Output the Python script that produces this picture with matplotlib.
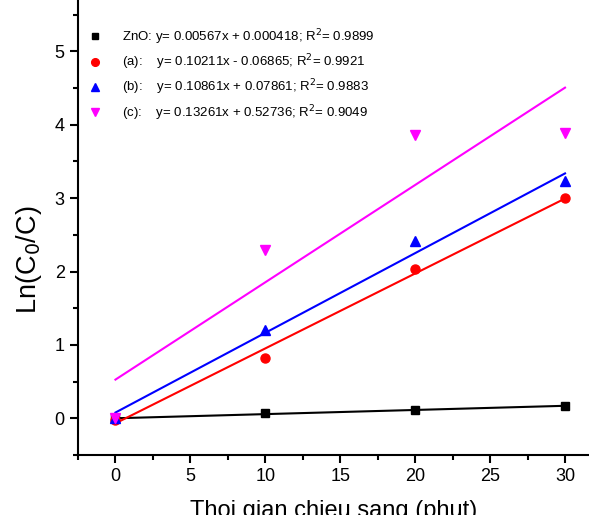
import numpy as np
import matplotlib
matplotlib.use("Agg")
import matplotlib.pyplot as plt
from matplotlib.ticker import MultipleLocator

plt.rcParams['font.family'] = ['Liberation Sans', 'DejaVu Sans']

# Irradiation time (min)
time_min = [0, 10, 20, 30]

# Ln(C0/C) measured
zno = [0.0, 0.07, 0.11, 0.17]
sample_a = [-0.02, 0.82, 2.04, 3.0]
sample_b = [0.0, 1.21, 2.42, 3.23]
sample_c = [0.0, 2.29, 3.86, 3.89]

# Linear fit coefficients (slope, intercept) from the legend
fit_slopes = [0.00567, 0.10211, 0.10861, 0.13261]
fit_intercepts = [0.000418, -0.06865, 0.07861, 0.52736]

labels = [
    "ZnO: y= 0.00567x + 0.000418; R$^2$= 0.9899",
    "(a):    y= 0.10211x - 0.06865; R$^2$= 0.9921",
    "(b):    y= 0.10861x + 0.07861; R$^2$= 0.9883",
    "(c):    y= 0.13261x + 0.52736; R$^2$= 0.9049",
]
colors = ["black", "#ff0000", "#0000ff", "#ff00ff"]
markers = ["s", "o", "^", "v"]
msizes = [5.5, 6.5, 6.5, 6.5]
series = [zno, sample_a, sample_b, sample_c]

fig = plt.figure(figsize=(5.89, 5.15), dpi=100)
ax = fig.add_axes([0.1324, 0.1165, 0.8676, 0.8835])

x_fit = np.array([time_min[0], time_min[-1]])
for vals, k, b, c, m, ms, lab in zip(series, fit_slopes, fit_intercepts, colors, markers, msizes, labels):
    ax.plot(time_min, vals, linestyle="none", marker=m, color=c, markersize=ms, label=lab)
    ax.plot(x_fit, k * x_fit + b, color=c, linewidth=1.5)

ax.set_xlim(-2.5, 31.6)
ax.set_ylim(-0.5, 5.7)
ax.xaxis.set_major_locator(MultipleLocator(5))
ax.xaxis.set_minor_locator(MultipleLocator(2.5))
ax.yaxis.set_major_locator(MultipleLocator(1))
ax.yaxis.set_minor_locator(MultipleLocator(0.5))
ax.spines['top'].set_visible(False)
ax.spines['right'].set_visible(False)
ax.spines['left'].set_linewidth(1.5)
ax.spines['bottom'].set_linewidth(1.5)
ax.tick_params(which='major', direction='out', length=6, width=1.5, labelsize=13)
ax.tick_params(which='minor', direction='out', length=3.5, width=1.5)

ax.set_ylabel("Ln(C$_0$/C)", fontsize=19.5)
ax.yaxis.set_label_coords(-0.066, 0.43)
ax.set_xlabel("Thoi gian chieu sang (phut)", fontsize=17, labelpad=10.5)

ax.legend(loc='upper left', bbox_to_anchor=(87 / 589, 1 - 27 / 515), bbox_transform=fig.transFigure,
          frameon=False, fontsize=9.5, borderaxespad=0, borderpad=0,
          handletextpad=1.45, handlelength=1.2, labelspacing=0.44, markerscale=0.85)

fig.savefig("out.png", dpi=100)
